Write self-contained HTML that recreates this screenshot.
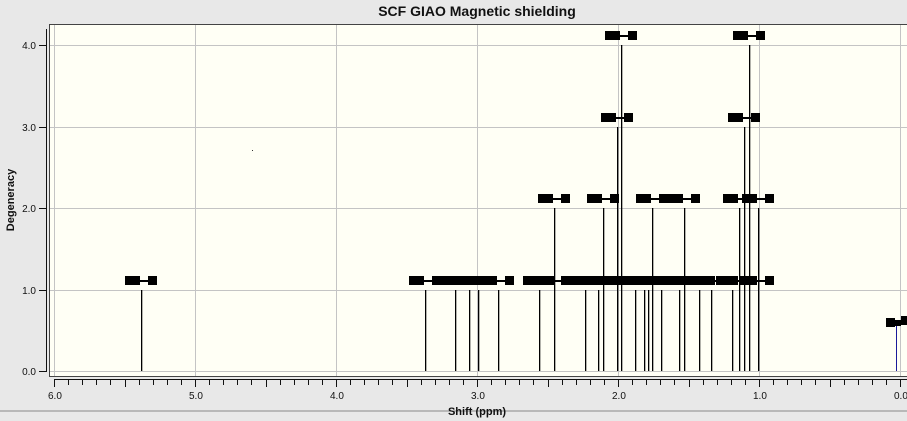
<!DOCTYPE html>
<html><head><meta charset="utf-8"><style>
html,body{margin:0;padding:0;background:#e8e8e8;}
svg{display:block;font-family:"Liberation Sans",sans-serif;}
</style></head><body>
<svg id="s" width="907" height="421" xmlns="http://www.w3.org/2000/svg">
<rect x="0" y="0" width="907" height="421" fill="#e8e8e8"/>
<line x1="0" y1="411" x2="907" y2="411" stroke="#888" stroke-width="1"/>
<text x="477" y="16" font-size="14" font-weight="bold" text-anchor="middle" fill="#111">SCF GIAO Magnetic shielding</text>
<rect x="49.5" y="24.5" width="858" height="352" fill="#fffff5" stroke="#444" stroke-width="1"/>
<g id="grid" stroke="#c4c4c4" stroke-width="1"></g>
<g id="ax" stroke="#111" stroke-width="1"></g>
<g id="txt" font-size="10" fill="#111"></g>
<g id="data"></g>
<text x="14" y="200" font-size="11" font-weight="bold" text-anchor="middle" transform="rotate(-90 14 200)" fill="#111">Degeneracy</text>
<text x="477" y="415" font-size="11" font-weight="bold" text-anchor="middle" fill="#111">Shift (ppm)</text>
<rect x="252" y="150" width="1" height="1" fill="#333"/>
</svg>
<script>
const NS="http://www.w3.org/2000/svg";
function el(p,t,a){const e=document.createElementNS(NS,t);for(const k in a)e.setAttribute(k,a[k]);document.getElementById(p).appendChild(e);return e;}
const X=v=>900-v*141, Y=l=>371-l*81.5;
for(let v=0;v<=6;v++){const x=X(v)+0.5;el('grid','line',{x1:x,y1:25,x2:x,y2:376});}
for(let l=0;l<=4;l++){const y=Math.round(Y(l))+0.5;el('grid','line',{x1:50,y1:y,x2:907,y2:y});}
el('ax','line',{x1:46.5,y1:29,x2:46.5,y2:372});
for(let l=0;l<=4;l++){const y=Math.round(Y(l))+0.5;el('ax','line',{x1:39,y1:y,x2:46,y2:y});
 const t=el('txt','text',{x:36,y:y+3.5,'text-anchor':'end'});t.textContent=l.toFixed(1);}
el('ax','line',{x1:54,y1:379.5,x2:907,y2:379.5});
for(let i=0;i<=60;i++){const x=Math.round(X(6-i*0.1))+0.5;const len=(i%5==0)?7:5;el('ax','line',{x1:x,y1:380,x2:x,y2:380+len});}
for(let v=0;v<=6;v++){const t=el('txt','text',{x:X(v)-6,y:399});t.textContent=v.toFixed(1);}
const L={1:[141,425,455,469,478,498,539,585,598,635,644,648,661,679,699,711,732],2:[554,603,652,684,739,758],3:[617,744],4:[621,749]};
const LB={1:L[1].concat([554,603,617,652,684,739,758]),2:L[2],3:L[3],4:L[4]};
for(const lv in L){for(const x of L[lv]){const yt=Math.round(Y(lv));
 el('data','rect',{x:x,y:yt,width:1.3,height:371-yt,fill:'#000'});}}
for(const lv in LB){for(const x of LB[lv]){const yt=Math.round(Y(lv))-14;
 el('data','rect',{x:x-16,y:yt,width:15,height:9,fill:'#000'});
 el('data','rect',{x:x-1,y:yt+4,width:8,height:2,fill:'#000'});
 el('data','rect',{x:x+7,y:yt,width:9,height:9,fill:'#000'});}}
el('data','rect',{x:896,y:322,width:1,height:49,fill:'#1a1a9a'});
el('data','rect',{x:886,y:318,width:9,height:9,fill:'#000'});
el('data','rect',{x:895,y:320,width:6,height:6,fill:'#000'});
el('data','rect',{x:901,y:316,width:6,height:9,fill:'#000'});
</script>
</body></html>
